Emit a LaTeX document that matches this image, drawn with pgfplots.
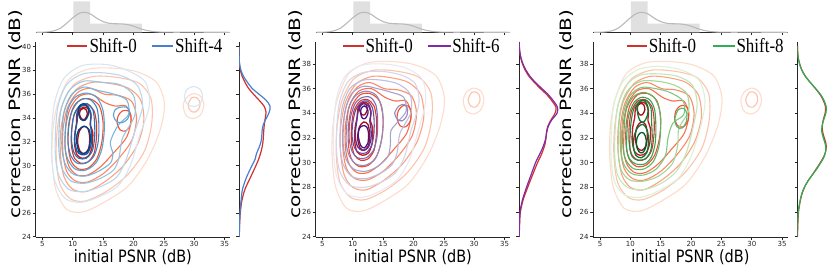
\documentclass[border=0pt]{standalone}
\usepackage{pgfplots}
\pgfplotsset{compat=1.18}
\usepackage{fontspec}
\setmainfont{Liberation Serif}
\newfontfamily\dejavu{DejaVu Sans}
\usepackage{graphicx}

\definecolor{legred}{HTML}{D0312D}
\definecolor{legblue}{HTML}{4A7FD0}
\definecolor{legpurple}{HTML}{7E2BA8}
\definecolor{leggreen}{HTML}{2FAE55}
\definecolor{r1}{HTML}{FDDCCD}\definecolor{r2}{HTML}{FCC4AC}\definecolor{r3}{HTML}{FCA383}
\definecolor{r4}{HTML}{FC8A69}\definecolor{r5}{HTML}{FA6F4E}\definecolor{r6}{HTML}{F25035}
\definecolor{r7}{HTML}{E03228}\definecolor{r8}{HTML}{C5171D}\definecolor{r9}{HTML}{A00E16}
\definecolor{b1}{HTML}{D6E6F4}\definecolor{b2}{HTML}{BDD7EC}\definecolor{b3}{HTML}{9DC8E2}
\definecolor{b4}{HTML}{7CB6DA}\definecolor{b5}{HTML}{5AA2D0}\definecolor{b6}{HTML}{3D8AC3}
\definecolor{b7}{HTML}{2672B4}\definecolor{b8}{HTML}{135BA2}\definecolor{b9}{HTML}{08428A}
\definecolor{p1}{HTML}{EAE8F3}\definecolor{p2}{HTML}{D7D6EA}\definecolor{p3}{HTML}{BFBFDE}
\definecolor{p4}{HTML}{A6A3CE}\definecolor{p5}{HTML}{8F8AC1}\definecolor{p6}{HTML}{7A6DB3}
\definecolor{p7}{HTML}{6A4BA2}\definecolor{p8}{HTML}{5A3095}\definecolor{p9}{HTML}{4A1486}
\definecolor{g1}{HTML}{DDF1D7}\definecolor{g2}{HTML}{C2E7BA}\definecolor{g3}{HTML}{A0D99A}
\definecolor{g4}{HTML}{7EC97E}\definecolor{g5}{HTML}{5AB767}\definecolor{g6}{HTML}{3AA356}
\definecolor{g7}{HTML}{238B45}\definecolor{g8}{HTML}{0F7536}\definecolor{g9}{HTML}{005E27}

\pgfplotsset{
 cont/.style={smooth cycle, line width=1.1pt},
 mainax/.style={scale only axis, width=194.3pt, height=195.6pt, anchor=south west,
   xmin=3.9, xmax=35.9, ymin=23.95, clip=false,
   axis x line*=bottom, axis y line*=left,
   axis line style={black!85, line width=0.7pt},
   tick align=outside, major tick length=3pt, tick style={black!85, line width=0.6pt},
   xtick={5,10,...,35},
   ticklabel style={font=\dejavu\fontsize{7}{7}\selectfont, text=black!85},
   xticklabel style={inner sep=1pt},
   yticklabel style={inner sep=1.5pt},
   /pgf/number format/assume math mode=true,
   xlabel={\scalebox{0.85}[1]{initial PSNR (dB)}},
   xlabel style={font=\dejavu\fontsize{17}{17}\selectfont, inner sep=0pt, at={(axis description cs:0.5,-0.131)}, anchor=base},
   ylabel={\scalebox{1}[0.78]{correction PSNR (dB)}},
   ylabel style={font=\dejavu\fontsize{20}{20}\selectfont, inner sep=0pt, anchor=center},
 },
 topax/.style={scale only axis, width=194.3pt, height=32.3pt, anchor=south west,
   xmin=3.9, xmax=35.9, ymin=0, ymax=1,
   axis x line*=bottom, axis y line=none,
   axis line style={black!85, line width=0.7pt},
   tick align=outside, major tick length=2.7pt, tick style={black!85, line width=0.6pt},
   xtick={5,10,...,35}, xticklabels={}},
 rightax/.style={scale only axis, height=195.6pt, anchor=south west,
   xmin=0, ymin=23.95,
   axis y line*=left, axis x line=none,
   axis line style={black!85, line width=0.7pt},
   tick align=outside, major tick length=2.7pt, tick style={black!85, line width=0.6pt},
   yticklabels={}},
}

% legend key: line from #1 to #2 (axis description x), text at #3, colour #4, label #5
\newcommand\legkey[5]{%
  \draw[#4, line width=1.7pt] (axis description cs:#1,0.979) -- (axis description cs:#2,0.979);
  \node[anchor=base west, inner sep=0pt, font=\fontsize{20}{20}\selectfont] at (axis description cs:#3,0.943) {\scalebox{0.85}[1]{#5}};
}

\newcommand\topmarginal{%
  \addplot[ybar interval, fill=black!12, draw=none] coordinates {(10.1,0.96) (12.86,0.27) (21.4,0)};
  \addplot[smooth, black!27, line width=1.1pt] coordinates {(4,0) (5,0.003) (6,0.015) (7,0.05) (8,0.13) (9,0.28) (10,0.45) (11,0.58) (11.8,0.62) (12.5,0.6) (13,0.56) (14,0.43) (15,0.33) (16,0.28) (17,0.265) (18,0.26) (19,0.24) (20,0.19) (21,0.12) (22,0.065) (23,0.03) (24,0.012) (25,0.005) (27,0.003) (29,0.004) (31,0.004) (33,0.001) (35.9,0)};
}

\newcommand\redcontours{%
  \addplot[cont, r1] coordinates {(6.6,30.5) (7.2,28.0) (9.0,26.3) (11.8,26.1) (15.5,27.0) (19.2,28.3) (22.3,30.5) (24.4,33.0) (25.1,35.2) (23.8,37.0) (20.5,37.9) (16.5,38.2) (12.5,38.1) (9.3,37.2) (7.4,35.0) (6.7,32.8)};
  \addplot[cont, r1] coordinates {(28.2,35.0) (28.7,34.2) (29.9,33.95) (31.1,34.3) (31.6,35.1) (31.1,35.8) (29.9,36.05) (28.7,35.7)};
  \addplot[cont, r2] coordinates {(7.3,30.5) (7.9,28.4) (9.6,27.2) (12,27.0) (15.5,27.8) (19,29.2) (21.8,31.2) (23.0,33.5) (22.9,35.6) (21,36.9) (17.5,37.4) (13.5,37.5) (10.2,36.8) (8.2,35.0) (7.4,32.8)};
  \addplot[cont, r2] coordinates {(29.0,35.1) (29.4,34.6) (30.2,34.5) (30.9,34.9) (30.9,35.4) (30.4,35.7) (29.6,35.7)};
  \addplot[cont, r3] coordinates {(8.0,30.8) (8.6,29.0) (10,28.0) (12.2,27.8) (15.2,28.6) (18.2,29.9) (20.6,31.7) (21.7,33.7) (21.2,35.5) (19.2,36.5) (16.2,36.9) (13.2,37.0) (10.6,36.4) (8.8,34.9) (8.0,32.8)};
  \addplot[cont, r4] coordinates {(8.4,31.0) (9.0,29.5) (10.4,28.7) (12.4,28.6) (15,29.3) (17.6,30.6) (19.8,32.2) (20.5,34.0) (19.7,35.4) (17.5,35.9) (15.2,36.0) (12.8,36.5) (10.7,36.1) (9.1,34.8) (8.4,33.0)};
  \addplot[cont, r5] coordinates {(8.8,31.2) (9.4,29.9) (10.7,29.2) (12.5,29.2) (14.6,29.9) (16.8,31.1) (18.9,32.4) (19.6,33.9) (18.8,35.0) (17.0,35.0) (15.3,35.3) (13.1,36.0) (11.0,35.8) (9.5,34.7) (8.8,33.0)};
  \addplot[cont, r6] coordinates {(9.3,31.4) (9.8,30.3) (11.0,29.7) (12.6,29.8) (14.0,30.6) (14.8,32.0) (15.0,33.6) (14.4,35.0) (12.9,35.6) (11.2,35.5) (9.9,34.6) (9.3,33.0)};
  \addplot[cont, r6] coordinates {(17.3,33.6) (17.8,33.0) (18.7,32.9) (19.5,33.4) (19.6,34.2) (19.1,34.6) (18.2,34.6) (17.5,34.2)};
  \addplot[cont, r7] coordinates {(9.8,31.6) (10.3,30.6) (11.3,30.2) (12.5,30.3) (13.5,31.0) (13.9,32.3) (13.9,33.6) (13.5,34.6) (12.5,35.1) (11.2,35.0) (10.2,34.2) (9.8,32.9)};
  \addplot[cont, r8, line width=1.3pt] coordinates {(10.3,31.8) (10.7,30.9) (11.6,30.6) (12.6,30.8) (13.2,31.6) (13.3,32.8) (12.9,33.4) (13.0,34.2) (12.5,34.8) (11.7,34.9) (10.9,34.5) (10.7,33.6) (10.4,32.9)};
  \addplot[cont, r9, line width=1.3pt] coordinates {(10.8,32.0) (11.2,31.2) (11.9,31.0) (12.6,31.4) (12.8,32.3) (12.5,33.1) (11.8,33.3) (11.1,32.9)};
  \addplot[cont, r9, line width=1.3pt] coordinates {(11.1,34.3) (11.5,33.9) (12.0,33.9) (12.4,34.3) (12.2,34.7) (11.7,34.8) (11.2,34.6)};
}

\newcommand\bluecontours{%
  \addplot[cont, b1] coordinates {(6.5,31.5) (7.0,28.8) (8.8,27.2) (11.5,26.9) (14.5,27.4) (17.5,28.3) (19.5,30.0) (21.0,32.5) (22.6,35.0) (22.0,37.0) (19.0,38.0) (15.5,38.5) (11.5,38.4) (8.5,37.3) (6.9,35.0)};
  \addplot[cont, b1] coordinates {(28.4,35.8) (28.8,35.2) (29.9,34.95) (31.0,35.2) (31.4,35.8) (31.0,36.4) (29.9,36.65) (28.8,36.4)};
  \addplot[cont, b2] coordinates {(7.1,31.5) (7.6,29.3) (9.3,28.0) (11.8,27.8) (14.5,28.2) (17.2,29.0) (18.8,30.5) (20.2,32.8) (21.5,35.0) (20.7,36.7) (18.3,37.5) (15,37.8) (11.6,37.7) (9,36.8) (7.5,34.8)};
  \addplot[cont, b3] coordinates {(7.7,31.6) (8.2,29.8) (9.7,28.7) (12,28.5) (14.5,28.9) (16.7,29.6) (17.6,30.6) (18.2,32.3) (20.2,34.2) (20.0,35.9) (17.8,36.8) (14.8,37.0) (11.8,37.1) (9.4,36.3) (8.0,34.5)};
  \addplot[cont, b4] coordinates {(8.2,31.7) (8.7,30.2) (10,29.3) (12,29.1) (14.2,29.5) (16.2,30.2) (16.6,31.0) (16.2,32.0) (17.5,33.4) (19.2,34.3) (18.9,35.5) (16.8,36.0) (14.3,36.3) (11.8,36.6) (9.7,35.9) (8.5,34.3)};
  \addplot[cont, b5] coordinates {(8.7,31.8) (9.2,30.5) (10.4,29.7) (12.1,29.6) (13.8,30.2) (14.8,31.4) (15.2,33.0) (15.0,34.6) (14.0,35.7) (12.2,36.1) (10.3,35.7) (9.1,34.5)};
  \addplot[cont, b5] coordinates {(16.7,34.2) (17.2,33.7) (18.1,33.6) (19.0,33.9) (19.4,34.5) (18.9,34.9) (17.8,34.9) (17.0,34.7)};
  \addplot[cont, b6] coordinates {(9.2,32.0) (9.7,30.8) (10.7,30.2) (12.2,30.2) (13.5,30.8) (14.2,32.0) (14.3,33.5) (14.0,34.8) (13.0,35.5) (11.6,35.6) (10.2,35.0) (9.4,33.7)};
  \addplot[cont, b7] coordinates {(9.8,32.1) (10.2,31.1) (11.0,30.6) (12.2,30.6) (13.2,31.2) (13.6,32.3) (13.6,33.6) (13.3,34.7) (12.4,35.2) (11.3,35.1) (10.3,34.4) (9.9,33.3)};
  \addplot[cont, b8, line width=1.3pt] coordinates {(10.3,32.2) (10.7,31.2) (11.5,30.9) (12.4,31.0) (13.0,31.7) (13.1,32.7) (12.9,33.5) (13.0,34.4) (12.4,35.0) (11.4,35.0) (10.7,34.4) (10.6,33.4)};
  \addplot[cont, b9, line width=1.3pt] coordinates {(10.6,32.2) (11.0,31.2) (11.8,31.0) (12.6,31.3) (12.9,32.2) (12.7,33.0) (11.9,33.3) (11.0,33.0)};
  \addplot[cont, b9, line width=1.3pt] coordinates {(10.9,34.5) (11.3,33.9) (12.0,33.8) (12.6,34.3) (12.5,34.9) (11.8,35.2) (11.1,35.0)};
}

\newcommand\purplecontours{%
  \addplot[cont, p1] coordinates {(6.8,31.5) (7.3,29.0) (9.0,27.5) (11.7,27.2) (14.5,27.7) (17.3,28.6) (19.3,30.2) (20.8,32.6) (22.0,35.0) (21.4,36.8) (18.6,37.7) (15.2,38.0) (11.5,37.9) (8.7,37.0) (7.2,34.9)};
  \addplot[cont, p2] coordinates {(7.3,31.5) (7.8,29.4) (9.4,28.2) (11.9,28.0) (14.6,28.4) (17.1,29.2) (18.6,30.6) (19.6,32.6) (20.9,34.8) (20.3,36.4) (18.0,37.1) (14.9,37.4) (11.6,37.3) (9.1,36.5) (7.7,34.6)};
  \addplot[cont, p3] coordinates {(7.9,31.6) (8.4,29.9) (9.8,28.9) (12.0,28.7) (14.4,29.1) (16.4,29.8) (17.3,30.8) (17.8,32.4) (19.6,34.1) (19.4,35.6) (17.4,36.4) (14.6,36.7) (11.8,36.7) (9.5,36.0) (8.2,34.3)};
  \addplot[cont, p4] coordinates {(8.4,31.7) (8.9,30.3) (10.1,29.5) (12.1,29.3) (14.1,29.7) (15.8,30.5) (16.2,31.5) (16.3,32.6) (17.6,33.4) (18.8,34.2) (18.4,35.3) (16.4,35.7) (14.1,36.0) (11.8,36.2) (9.8,35.6) (8.7,34.1)};
  \addplot[cont, p5] coordinates {(8.9,31.8) (9.4,30.6) (10.5,29.9) (12.1,29.8) (13.7,30.3) (14.6,31.5) (15.0,33.0) (14.8,34.5) (13.8,35.5) (12.1,35.8) (10.4,35.4) (9.3,34.3)};
  \addplot[cont, p5] coordinates {(16.9,34.0) (17.4,33.5) (18.2,33.4) (18.9,33.8) (19.0,34.4) (18.5,34.7) (17.6,34.6)};
  \addplot[cont, p6] coordinates {(9.4,32.0) (9.9,30.9) (10.8,30.4) (12.2,30.4) (13.4,31.0) (14.0,32.1) (14.1,33.5) (13.8,34.7) (12.9,35.3) (11.6,35.3) (10.4,34.8) (9.6,33.6)};
  \addplot[cont, p7] coordinates {(9.9,32.1) (10.3,31.2) (11.1,30.8) (12.2,30.8) (13.1,31.4) (13.5,32.4) (13.5,33.6) (13.2,34.5) (12.4,35.0) (11.4,34.9) (10.5,34.3) (10.0,33.2)};
  \addplot[cont, p8, line width=1.3pt] coordinates {(10.4,32.2) (10.8,31.3) (11.6,31.0) (12.5,31.2) (13.0,31.9) (13.0,32.8) (12.8,33.4) (13.0,34.0) (12.6,34.6) (11.8,34.8) (11.0,34.4) (10.7,33.5)};
  \addplot[cont, p9, line width=1.3pt] coordinates {(10.9,32.2) (11.3,31.4) (11.9,31.2) (12.5,31.6) (12.6,32.4) (12.3,32.9) (11.7,33.0) (11.1,32.8)};
  \addplot[cont, p9, line width=1.3pt] coordinates {(11.3,34.0) (11.6,33.6) (12.1,33.6) (12.5,34.0) (12.4,34.4) (11.9,34.6) (11.4,34.4)};
}

\newcommand\greencontours{%
  \addplot[cont, g1] coordinates {(6.8,31.0) (7.3,28.6) (9.0,27.4) (11.8,27.2) (15,27.8) (18,28.8) (20,30.5) (21.5,32.8) (22.3,35.0) (21.3,36.7) (18.5,37.5) (15,37.8) (11.5,37.6) (8.8,36.6) (7.2,34.5)};
  \addplot[cont, g2] coordinates {(7.4,31.0) (7.9,29.0) (9.5,28.0) (12,27.8) (15,28.3) (17.6,29.3) (19.2,30.8) (20.3,32.8) (21.0,34.8) (20.2,36.3) (17.8,37.0) (14.8,37.2) (11.6,37.1) (9.2,36.2) (7.8,34.3)};
  \addplot[cont, g3] coordinates {(8.0,31.0) (8.5,29.4) (9.9,28.6) (12.1,28.5) (14.6,28.9) (16.9,29.9) (17.8,31.4) (18.0,32.8) (19.6,34.2) (19.3,35.6) (17.2,36.3) (14.5,36.6) (11.7,36.6) (9.5,35.8) (8.3,34.1)};
  \addplot[cont, g4] coordinates {(8.5,31.0) (9.0,29.8) (10.3,29.1) (12.2,29.0) (14.3,29.5) (15.8,30.6) (16.2,32.0) (17.0,33.2) (18.8,33.9) (18.7,35.0) (16.5,35.7) (14.2,36.0) (11.8,36.1) (9.9,35.4) (8.8,33.8)};
  \addplot[cont, g5] coordinates {(8.9,31.1) (9.4,30.1) (10.6,29.5) (12.3,29.5) (13.8,30.1) (14.7,31.3) (15.0,32.8) (14.8,34.3) (13.9,35.3) (12.2,35.7) (10.4,35.3) (9.2,34.0)};
  \addplot[cont, g5] coordinates {(17.3,33.5) (17.7,32.9) (18.5,32.8) (19.2,33.3) (19.3,34.0) (18.8,34.4) (17.9,34.3)};
  \addplot[cont, g6] coordinates {(9.4,31.2) (9.9,30.3) (10.9,29.9) (12.4,29.9) (13.5,30.5) (14.1,31.6) (14.2,33.0) (14.0,34.3) (13.2,35.1) (11.8,35.3) (10.5,34.8) (9.6,33.5)};
  \addplot[cont, g7] coordinates {(9.9,31.3) (10.3,30.5) (11.2,30.2) (12.4,30.3) (13.3,30.9) (13.6,32.0) (13.5,33.3) (13.4,34.4) (12.7,35.0) (11.6,35.0) (10.6,34.4) (10.1,33.2)};
  \addplot[cont, g8, line width=1.3pt] coordinates {(10.5,31.4) (10.9,30.6) (11.8,30.4) (12.7,30.8) (13.0,31.7) (12.8,32.6) (12.1,33.1) (11.3,32.9) (10.7,32.3)};
  \addplot[cont, g8, line width=1.3pt] coordinates {(11.2,34.0) (11.6,33.4) (12.2,33.3) (12.8,33.8) (12.9,34.5) (12.4,35.0) (11.7,35.0) (11.2,34.6)};
  \addplot[cont, g9, line width=1.3pt] coordinates {(11.0,31.4) (11.4,30.9) (12.0,30.8) (12.5,31.2) (12.6,31.9) (12.2,32.4) (11.6,32.4) (11.1,32.0)};
}

\begin{document}
\begin{tikzpicture}
\useasboundingbox (0,0) rectangle (830pt,269pt);

% ================= Panel 1 =================
\begin{axis}[topax, at={(35.7pt,236.7pt)}]
\topmarginal
\end{axis}
\begin{axis}[mainax, at={(35.7pt,31.7pt)}, ymax=40.42, ytick={24,26,...,40},
  ylabel style={at={(axis description cs:-0.102,0.63)}}]
\redcontours
\bluecontours
\legkey{0.1595}{0.2656}{0.276}{legred}{Shift-0}
\legkey{0.597}{0.708}{0.717}{legblue}{Shift-4}
\end{axis}
\begin{axis}[rightax, at={(239pt,31.7pt)}, width=36pt, xmax=36, ymax=40.42, ytick={24,26,...,40}]
\addplot[smooth, legred, line width=1.2pt] coordinates {(0.3,24) (0.6,25) (1.3,26) (2.8,27) (6,28) (11.5,29) (17,30) (19.5,30.5) (21.5,31) (23,31.5) (24,32) (24.4,32.5) (24.8,33) (25.4,33.5) (26.3,34) (27,34.5) (25,35) (20,35.5) (14.5,36) (9.5,36.5) (6,37) (3.2,37.5) (1.4,38) (0.5,38.5) (0.15,39) (0,40)};
\addplot[smooth, legblue, line width=1.2pt] coordinates {(0.2,24) (0.5,25) (1,26) (2,27) (3.5,28) (7.5,29) (13,30) (16,30.5) (17.5,31) (20,31.5) (22,32) (22.8,32.5) (23.2,33) (24.5,33.5) (27.5,34) (30.3,34.5) (31,35) (27,35.5) (20,36) (13,36.5) (8.5,37) (4.5,37.5) (2,38) (0.7,38.5) (0.2,39) (0,40)};
\end{axis}

% ================= Panel 2 =================
\begin{axis}[topax, at={(315.7pt,236.7pt)}]
\topmarginal
\end{axis}
\begin{axis}[mainax, at={(315.7pt,31.7pt)}, ymax=39.81, ytick={24,26,...,38},
  ylabel style={at={(axis description cs:-0.102,0.63)}}]
\redcontours
\purplecontours
\legkey{0.142}{0.249}{0.256}{legred}{Shift-0}
\legkey{0.580}{0.695}{0.702}{legpurple}{Shift-6}
\end{axis}
\begin{axis}[rightax, at={(519pt,31.7pt)}, width=40pt, xmax=40, ymax=39.81, ytick={24,26,...,38}]
\addplot[smooth, legred, line width=1.2pt] coordinates {(0.2,24) (0.6,25) (1.4,26) (4.2,27) (8.7,28) (13.5,29) (18.5,30) (21.5,30.5) (24,31) (26,31.5) (27,32) (27.5,32.5) (29,33) (32.2,33.5) (36,34) (37,34.5) (33,35) (28,35.5) (21.5,36) (15.5,36.5) (10,37) (6.2,37.5) (3.5,38) (1.7,38.5) (0.7,39) (0.25,39.5) (0.1,39.8)};
\addplot[smooth, legpurple, line width=1.2pt] coordinates {(0.1,24) (0.4,25) (1,26) (3.5,27) (7.5,28) (12,29) (16.5,30) (19.5,30.5) (22.5,31) (25,31.5) (26.8,32) (27.8,32.5) (29.5,33) (33,33.5) (38,34) (38.5,34.5) (34.5,35) (29.5,35.5) (23,36) (16.5,36.5) (11,37) (7,37.5) (4,38) (2,38.5) (0.8,39) (0.3,39.5) (0.1,39.8)};
\end{axis}

% ================= Panel 3 =================
\begin{axis}[topax, at={(593.3pt,236.7pt)}]
\topmarginal
\end{axis}
\begin{axis}[mainax, at={(593.3pt,31.7pt)}, ymax=39.81, ytick={24,26,...,38},
  ylabel style={at={(axis description cs:-0.137,0.63)}}]
\redcontours
\greencontours
\legkey{0.172}{0.278}{0.285}{legred}{Shift-0}
\legkey{0.614}{0.729}{0.736}{leggreen}{Shift-8}
\end{axis}
\begin{axis}[rightax, at={(797.3pt,31.7pt)}, width=32.7pt, xmax=32.7, ymax=39.81, ytick={24,26,...,38}]
\addplot[smooth, legred, line width=1.2pt] coordinates {(0.2,24) (0.5,25) (1.2,26) (2.1,26.5) (3.2,27) (4.8,27.5) (7.2,28) (10.5,28.5) (14.8,29) (19,29.5) (23,30) (26.5,30.5) (28.6,31) (28.8,31.5) (27,32) (25.3,32.5) (25,33) (26,33.5) (27.8,34) (28.3,34.5) (26.3,35) (23,35.5) (18.2,36) (13,36.5) (8.2,37) (4.7,37.5) (2.4,38) (1,38.5) (0.35,39) (0.1,39.5)};
\addplot[smooth, leggreen, line width=1.2pt] coordinates {(0,24) (0.3,25) (0.9,26) (1.8,26.5) (3,27) (4.5,27.5) (7,28) (10.5,28.5) (15,29) (19.5,29.5) (23.5,30) (27,30.5) (28.5,31) (28,31.5) (26,32) (24.5,32.5) (24.8,33) (26.5,33.5) (28.5,34) (29,34.5) (27,35) (23.5,35.5) (18.5,36) (13,36.5) (8,37) (4.5,37.5) (2.2,38) (0.9,38.5) (0.3,39) (0.1,39.5)};
\end{axis}
\end{tikzpicture}
\end{document}
